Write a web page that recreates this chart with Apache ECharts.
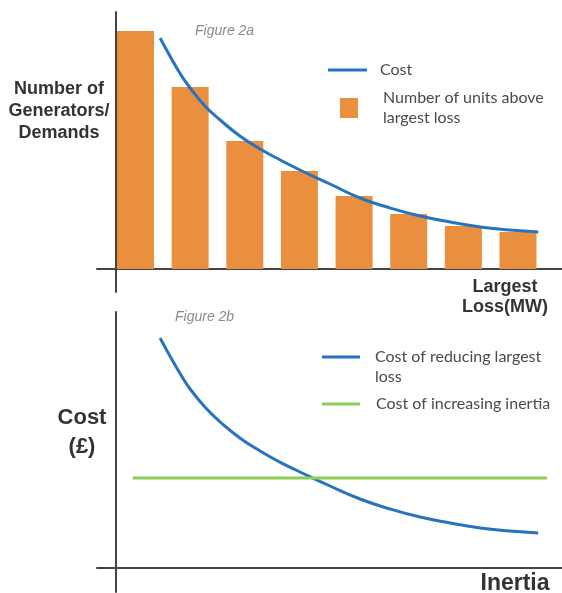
<!DOCTYPE html>
<html><head><meta charset="utf-8">
<script src="https://cdn.jsdelivr.net/npm/echarts@6/dist/echarts.min.js"></script>
<style>html,body{margin:0;padding:0;background:#fff}#c{width:562px;height:593px}</style>
</head><body><div id="c"></div>
<script>
// ---- Figure 2a data ----
const barPositions = [1, 2, 3, 4, 5, 6, 7, 8];
const unitsAboveLargestLoss = [11.9, 9.1, 6.4, 4.9, 3.65, 2.75, 2.15, 1.85];
const costX = [1.45, 1.63, 1.81, 2.0, 2.27, 2.55, 2.91, 3.28, 3.65, 4.01, 4.56, 5.11, 5.66, 6.21, 6.76, 7.31, 7.85, 8.37];
const costY = [11.55, 10.65, 9.8, 9.05, 8.15, 7.45, 6.65, 6.0, 5.45, 4.95, 4.25, 3.55, 3.05, 2.65, 2.35, 2.1, 1.95, 1.85];
// ---- Figure 2b data ----
const reduceLossX = [1.45, 1.63, 1.81, 2.0, 2.27, 2.55, 2.91, 3.28, 3.65, 4.01, 4.56, 5.11, 5.66, 6.21, 6.76, 7.31, 7.85, 8.37];
const reduceLossY = [11.5, 10.6, 9.75, 8.95, 8.05, 7.3, 6.5, 5.85, 5.28, 4.8, 4.1, 3.45, 2.95, 2.55, 2.25, 2.0, 1.85, 1.75];
const inertiaX = [0.95, 8.53];
const inertiaY = [4.5, 4.5];

const names = {
  cost: 'Cost',
  units: 'Number of units above\nlargest loss',
  reduce: 'Cost of reducing largest\nloss',
  inertia: 'Cost of increasing inertia'
};

const zip = (a, b) => a.map((v, i) => [v, b[i]]);
const AX = '#444';
const BLUE = '#2673bf', ORANGE = '#ea8f3e', GREEN = '#8fcd5a';
const legendFont = { fontFamily: 'Lato', fontSize: 16, color: '#4a4a4a', lineHeight: 20 };

function xAx(g) {
  return { gridIndex: g, type: 'value', min: 0.2954, max: 8.805,
    axisLine: { show: true, onZero: true, lineStyle: { color: AX, width: 2 } },
    axisTick: { show: false }, axisLabel: { show: false }, splitLine: { show: false } };
}
function yAx(g, min, max) {
  return { gridIndex: g, type: 'value', min: min, max: max, offset: -19,
    axisLine: { show: true, onZero: false, lineStyle: { color: AX, width: 2 } },
    axisTick: { show: false }, axisLabel: { show: false }, splitLine: { show: false } };
}
function txt(text, x, y, font, extra) {
  return { type: 'text', x: x, y: y, silent: true,
    style: Object.assign({ text: text, align: 'center', verticalAlign: 'middle', fill: '#333',
      fontFamily: 'Liberation Sans', fontWeight: 'bold', fontSize: 18 }, font, extra || {}) };
}

const chart = echarts.init(document.getElementById('c'), null, { renderer: 'canvas' });
chart.setOption({
  animation: false,
  backgroundColor: '#fff',
  grid: [
    { left: 97, width: 465, top: 12, height: 280 },
    { left: 97, width: 465, top: 312, height: 280 }
  ],
  xAxis: [xAx(0), xAx(1)],
  yAxis: [yAx(0, -1.15, 12.85), yAx(1, -1.2, 12.8)],
  legend: [
    { data: [names.cost], left: 328, top: 60, padding: 0, selectedMode: false, icon: 'rect',
      itemWidth: 39, itemHeight: 3, itemStyle: { borderWidth: 0 },
      textStyle: Object.assign({ padding: [0, 0, 0, 8] }, legendFont) },
    { data: [names.units], left: 340, top: 88, padding: 0, selectedMode: false, icon: 'rect',
      itemWidth: 18, itemHeight: 20, itemStyle: { borderWidth: 0 },
      textStyle: Object.assign({ padding: [0, 0, 0, 20] }, legendFont) },
    { data: [names.reduce], left: 322, top: 347, padding: 0, selectedMode: false,
      icon: 'path://M0,0h38v3h-38zM0,23h38', itemWidth: 38, itemHeight: 23, itemStyle: { borderWidth: 0 },
      textStyle: Object.assign({ padding: [0, 0, 0, 10] }, legendFont) },
    { data: [names.inertia], left: 322, top: 394, padding: 0, selectedMode: false, icon: 'rect',
      itemWidth: 38, itemHeight: 3, itemStyle: { borderWidth: 0 },
      textStyle: Object.assign({ padding: [0, 0, 0, 11] }, legendFont) }
  ],
  series: [
    { type: 'bar', name: names.units, xAxisIndex: 0, yAxisIndex: 0, barWidth: 37,
      itemStyle: { color: ORANGE }, data: zip(barPositions, unitsAboveLargestLoss) },
    { type: 'line', name: names.cost, xAxisIndex: 0, yAxisIndex: 0, smooth: true, showSymbol: false,
      color: BLUE, lineStyle: { color: BLUE, width: 3 }, data: zip(costX, costY) },
    { type: 'line', name: names.reduce, xAxisIndex: 1, yAxisIndex: 1, smooth: true, showSymbol: false,
      color: BLUE, lineStyle: { color: BLUE, width: 3 }, data: zip(reduceLossX, reduceLossY) },
    { type: 'line', name: names.inertia, xAxisIndex: 1, yAxisIndex: 1, showSymbol: false,
      color: GREEN, lineStyle: { color: GREEN, width: 3 }, data: zip(inertiaX, inertiaY) }
  ],
  graphic: [
    txt('Figure 2a', 195, 31, { fontWeight: 'normal', fontStyle: 'italic', fontSize: 14, fill: '#8a8a8a', align: 'left' }),
    txt('Figure 2b', 175, 317, { fontWeight: 'normal', fontStyle: 'italic', fontSize: 14, fill: '#8a8a8a', align: 'left' }),
    txt('Number of\nGenerators/\nDemands', 59, 111, { fontSize: 18, lineHeight: 22 }),
    txt('Largest\nLoss(MW)', 505, 297, { fontSize: 18, lineHeight: 20 }),
    txt('Cost\n(£)', 82, 432, { fontSize: 22, lineHeight: 29 }),
    txt('Inertia', 515, 584, { fontSize: 23 })
  ]
});
</script></body></html>
